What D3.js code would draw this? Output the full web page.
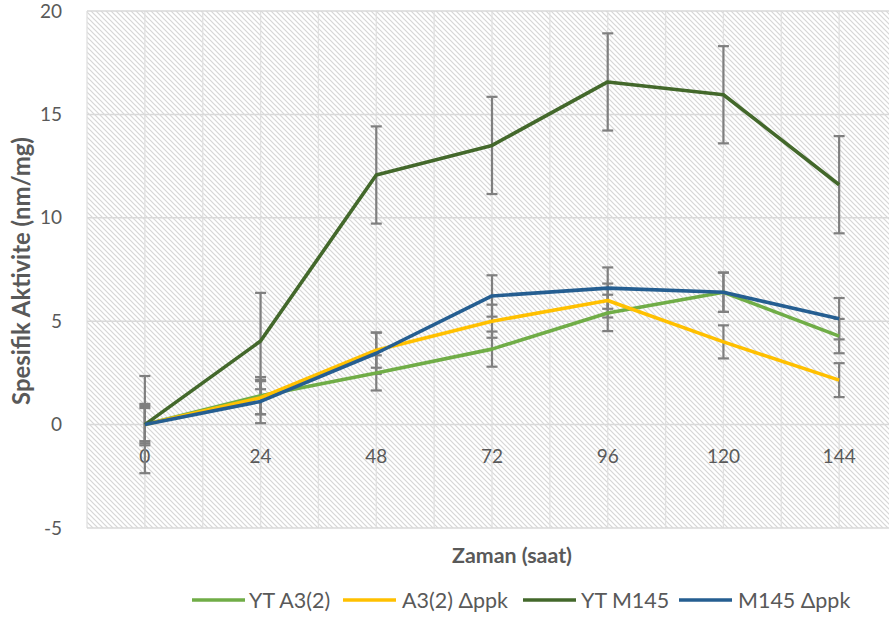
<!DOCTYPE html>
<html><head><meta charset="utf-8">
<script src="https://cdn.jsdelivr.net/npm/d3@7"></script>
<style>body{margin:0;background:#fff}svg{display:block;font-family:Lato,"Open Sans",sans-serif}</style>
</head><body><svg id="c" width="889" height="619"></svg>
<script>
const hours = [0, 24, 48, 72, 96, 120, 144];
const yTicks = [-5, 0, 5, 10, 15, 20];
const seriesNames = ["YT A3(2)", "A3(2) Δppk", "YT M145", "M145 Δppk"];
const seriesColors = ["#70AD47", "#FFC000", "#43682B", "#255E91"];
const ytA3 = [0, 1.4, 2.5, 3.65, 5.4, 6.4, 4.28];
const a3ppk = [0, 1.3, 3.6, 5.0, 6.0, 4.0, 2.15];
const ytM145 = [0, 4.04, 12.07, 13.5, 16.57, 15.95, 11.6];
const m145ppk = [0, 1.12, 3.45, 6.22, 6.6, 6.4, 5.12];
const errYtA3 = [0.9, 0.9, 0.85, 0.85, 0.88, 0.95, 0.83];
const errA3ppk = [0.8, 0.8, 0.85, 0.8, 0.82, 0.8, 0.82];
const errYtM145 = [2.35, 2.33, 2.35, 2.35, 2.35, 2.35, 2.35];
const errM145ppk = [1.0, 1.05, 1.0, 1.0, 1.0, 0.95, 1.0];

const values = [ytA3, a3ppk, ytM145, m145ppk];
const errs = [errYtA3, errA3ppk, errYtM145, errM145ppk];

const svg = d3.select("#c");
const x = d3.scaleLinear().domain([-12, 156]).range([87, 897]);
const y = d3.scaleLinear().domain([-5, 20]).range([528, 11]);

function fitWidth(sel, target) {
  const w = sel.node().getComputedTextLength();
  const fs = parseFloat(sel.attr("font-size"));
  sel.attr("font-size", fs * target / w);
}

const defs = svg.append("defs");
const pat = defs.append("pattern").attr("id", "hatch").attr("patternUnits", "userSpaceOnUse")
  .attr("width", 5).attr("height", 5);
pat.append("rect").attr("width", 5).attr("height", 5).attr("fill", "#fff");
pat.append("path").attr("d", "M0,0L5,5M-1,4L1,6M4,-1L6,1")
  .attr("stroke", "#d6d6d6").attr("stroke-width", 1.2);

svg.append("rect").attr("x", x(-12)).attr("y", y(20))
  .attr("width", x(156) - x(-12)).attr("height", y(-5) - y(20)).attr("fill", "url(#hatch)");

// gridlines
const gx = d3.range(-12, 157, 12);
svg.append("g").selectAll("line").data(gx).join("line")
  .attr("x1", d => x(d)).attr("x2", d => x(d)).attr("y1", y(20)).attr("y2", y(-5))
  .attr("stroke", "#e0e0e0").attr("stroke-width", 1.3);
svg.append("g").selectAll("line").data(yTicks).join("line")
  .attr("x1", x(-12)).attr("x2", x(156)).attr("y1", d => y(d)).attr("y2", d => y(d))
  .attr("stroke", "#d9d9d9").attr("stroke-width", 1.5);

// y tick labels
svg.append("g").selectAll("text").data(yTicks).join("text")
  .attr("x", 62).attr("y", d => y(d)).attr("dy", "0.35em").attr("text-anchor", "end")
  .attr("font-size", 19).attr("fill", "#595959").text(d => d);

// x tick labels
svg.append("g").selectAll("text").data(hours).join("text")
  .attr("x", d => x(d)).attr("y", y(0) + 38).attr("text-anchor", "middle")
  .attr("font-size", 19).attr("fill", "#595959").text(d => d);

// error bars
const eg = svg.append("g").attr("stroke", "#7f7f7f").attr("stroke-width", 2.2);
values.forEach((vals, si) => {
  vals.forEach((v, i) => {
    const e = errs[si][i], cx = x(hours[i]);
    eg.append("line").attr("x1", cx).attr("x2", cx).attr("y1", y(v + e)).attr("y2", y(v - e));
    [v + e, v - e].forEach(t => eg.append("line").attr("x1", cx - 5.5).attr("x2", cx + 5.5)
      .attr("y1", y(t)).attr("y2", y(t)));
  });
});

// lines
const line = d3.line().x((d, i) => x(hours[i])).y(d => y(d));
values.forEach((vals, si) => {
  svg.append("path").datum(vals).attr("d", line).attr("fill", "none")
    .attr("stroke", seriesColors[si]).attr("stroke-width", 3.6).attr("stroke-linejoin", "round");
});

// axis titles
const xt = svg.append("text").attr("x", 512).attr("y", 563).attr("text-anchor", "middle")
  .attr("font-size", 17).attr("font-weight", "bold").attr("fill", "#595959").text("Zaman (saat)");
fitWidth(xt, 120);
const yt = svg.append("text").attr("transform", "translate(30,271) rotate(-90)").attr("text-anchor", "middle")
  .attr("font-size", 17).attr("font-weight", "bold").attr("fill", "#595959").text("Spesifik Aktivite (nm/mg)");
fitWidth(yt, 268);

// legend
const legLineX = [192, 343, 523, 679];
const legTextX = [249, 402, 581, 738];
const lg = svg.append("g");
const texts = [];
seriesNames.forEach((n, i) => {
  lg.append("line").attr("x1", legLineX[i]).attr("x2", legLineX[i] + 53).attr("y1", 600).attr("y2", 600)
    .attr("stroke", seriesColors[i]).attr("stroke-width", 3.6);
  texts.push(lg.append("text").attr("x", legTextX[i]).attr("y", 600).attr("dy", "0.35em")
    .attr("font-size", 18).attr("fill", "#595959").text(n));
});
// common legend size fitted to one label's measured width
const w1 = texts[1].node().getComputedTextLength();
const fsL = 18 * 106 / w1;
texts.forEach(t => t.attr("font-size", fsL));
</script></body></html>
